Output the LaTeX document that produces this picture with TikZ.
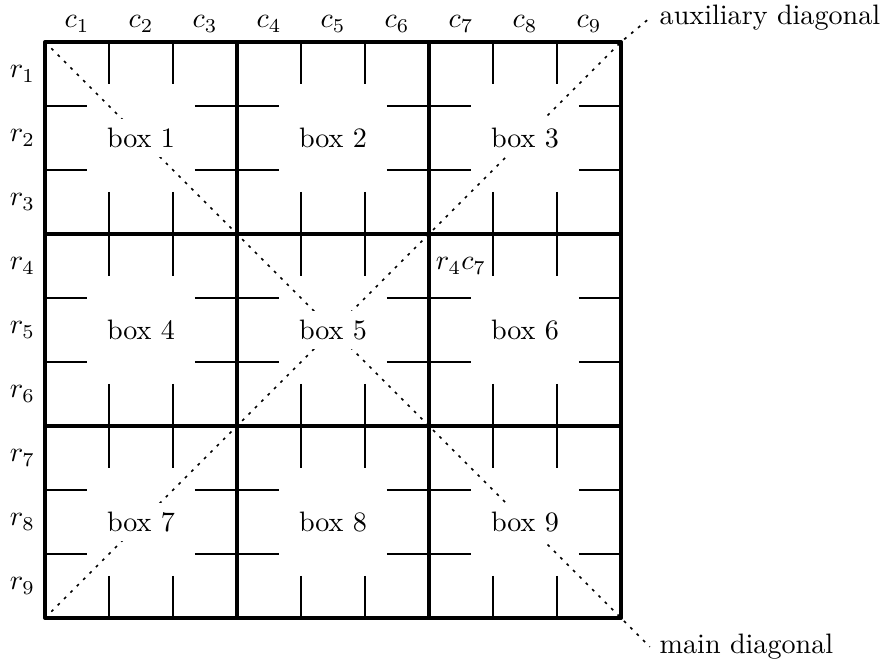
\documentclass[tikz,border=0pt]{standalone}
\usepackage{amsmath}
\usetikzlibrary{positioning,calc}

\begin{document}
\begin{tikzpicture}[
x=0.8cm, y=0.8cm,
cellline/.style={line width=0.6pt},
boxline/.style={line width=1.4pt, line join=round},
diagline/.style={line width=0.6pt, dash pattern=on 1pt off 2.2pt},
boxlabel/.style={fill=white},
diaglabel/.style={anchor=west}
]
\useasboundingbox (-0.703,0.656) rectangle (13.203,-9.719);

% -------- Thin cell lines (stopping short of each box centre) --------
\foreach \bx in {0,1,2}{
  \foreach \by in {0,1,2}{
    \foreach \k in {1,2}{
      \draw[cellline] ({3*\bx+\k},{-3*\by}) -- ({3*\bx+\k},{-3*\by-0.66});
      \draw[cellline] ({3*\bx+\k},{-3*\by-2.34}) -- ({3*\bx+\k},{-3*\by-3});
      \draw[cellline] ({3*\bx},{-3*\by-\k}) -- ({3*\bx+0.66},{-3*\by-\k});
      \draw[cellline] ({3*\bx+2.34},{-3*\by-\k}) -- ({3*\bx+3},{-3*\by-\k});
    }
  }
}

% -------- Diagonals --------
\node[diaglabel] (main) at (9.45,-9.45) {main diagonal};
\node[diaglabel] (aux) at (9.45,0.375) {auxiliary diagonal};
\coordinate (tl) at (0,0);
\coordinate (bl) at (0,-9);
\coordinate (tr) at (9,0);
\draw[diagline] (tl) -- (main.west);
\draw[diagline] (bl) -- (tr) -- (aux.west);

% -------- Box labels --------
\foreach \n in {1,...,9}{
  \pgfmathtruncatemacro{\col}{mod(\n-1,3)}
  \pgfmathtruncatemacro{\row}{int((\n-1)/3)}
  \node[boxlabel] (box\n) at ({3*\col+1.5},{-3*\row-1.5}) {box \n};
}

% -------- Row and column labels --------
\foreach \i in {1,...,9}{
  \node[above] (c\i) at ({\i-0.5},0) {$c_{\i}$};
  \node[left] (r\i) at (0,{-\i+0.5}) {$r_{\i}$};
}
\node (r4c7) at (6.5,-3.5) {$r_4c_7$};

% -------- Thick box lines --------
\draw[boxline] (0,0) rectangle (9,-9);
\foreach \k in {3,6}{
  \draw[boxline] (\k,0) -- (\k,-9);
  \draw[boxline] (0,-\k) -- (9,-\k);
}

\end{tikzpicture}
\end{document}
